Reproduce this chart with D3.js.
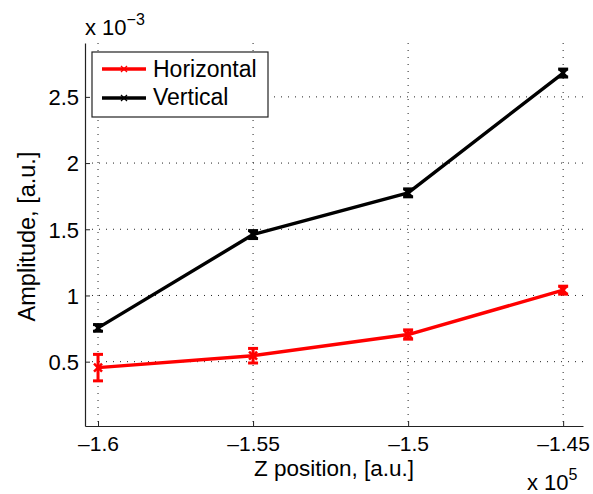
<!DOCTYPE html>
<html><head><meta charset="utf-8">
<script src="https://cdn.jsdelivr.net/npm/d3@7"></script>
<style>body{margin:0;background:#fff}svg{display:block}text{font-family:"Liberation Sans",Arial,sans-serif}</style>
</head><body><svg id="c" width="593" height="494"></svg>
<script>
const zPos = [-1.6, -1.55, -1.5, -1.45];
const horizontal = [0.455, 0.545, 0.705, 1.04];
const horizontalErr = [0.1, 0.055, 0.035, 0.03];
const vertical = [0.755, 1.46, 1.775, 2.68];
const verticalErr = [0.025, 0.03, 0.03, 0.03];
const xTicks = [-1.6, -1.55, -1.5, -1.45];
const xTickLabels = ["\u20131.6", "\u20131.55", "\u20131.5", "\u20131.45"];
const yTicks = [0.5, 1, 1.5, 2, 2.5];
const yTickLabels = ["0.5", "1", "1.5", "2", "2.5"];
const seriesNames = ["Horizontal", "Vertical"];

const svg = d3.select("#c");
const L = 85, R = 583, T = 43, B = 426;
const x = d3.scaleLinear().domain([-1.6042, -1.4436]).range([L, R]);
const y = d3.scaleLinear().domain([0.014, 2.907]).range([B, T]);

// grid
const g = svg.append("g");
g.selectAll(".gx").data(xTicks).join("line")
  .attr("x1", d => x(d)).attr("x2", d => x(d)).attr("y1", T).attr("y2", B)
  .attr("stroke", "#222").attr("stroke-width", 1).attr("stroke-dasharray", "1,6");
g.selectAll(".gy").data(yTicks).join("line")
  .attr("y1", d => y(d)).attr("y2", d => y(d)).attr("x1", L).attr("x2", R)
  .attr("stroke", "#222").attr("stroke-width", 1).attr("stroke-dasharray", "1,6");

// axes
const xAxis = d3.axisBottom(x).tickValues(xTicks).tickFormat((d, i) => xTickLabels[i]).tickSizeInner(-5).tickSizeOuter(0).tickPadding(10);
const yAxis = d3.axisLeft(y).tickValues(yTicks).tickFormat((d, i) => yTickLabels[i]).tickSizeInner(-5).tickSizeOuter(0).tickPadding(6);
const gx = svg.append("g").attr("transform", `translate(0,${B})`).call(xAxis);
const gy = svg.append("g").attr("transform", `translate(${L},0)`).call(yAxis);
[gx, gy].forEach(a => {
  a.select(".domain").attr("stroke", "#222").attr("stroke-width", 1.2);
  a.selectAll(".tick line").attr("stroke", "#222");
  a.selectAll("text").attr("font-size", 22).attr("fill", "#000").attr("font-family", "Liberation Sans, Arial, sans-serif");
});
gx.selectAll("text").attr("font-size", 21);
gy.selectAll(".tick text").attr("dy", "0.36em");
gx.selectAll(".tick text").attr("dy", "0.71em");

// exponents
const e1 = svg.append("text").attr("x", 85).attr("y", 35).attr("font-size", 22);
e1.append("tspan").text("x 10");
e1.append("tspan").attr("dy", -10).attr("font-size", 16).text("\u22123");
const e2 = svg.append("text").attr("x", 527).attr("y", 490).attr("font-size", 22);
e2.append("tspan").text("x 10");
e2.append("tspan").attr("dy", -10).attr("font-size", 16).text("5");

// titles
svg.append("text").attr("x", 334).attr("y", 476).attr("text-anchor", "middle").attr("font-size", 22.5).text("Z position, [a.u.]");
svg.append("text").attr("transform", `translate(35,${(T + B) / 2 + 2}) rotate(-90)`).attr("text-anchor", "middle").attr("font-size", 23.5).text("Amplitude, [a.u.]");

// series
const series = [
  {vals: horizontal, err: horizontalErr, color: "#ff0000"},
  {vals: vertical, err: verticalErr, color: "#000000"}
];
const line = d3.line().x((d, i) => x(zPos[i])).y(d => y(d));
series.forEach(s => {
  const sg = svg.append("g");
  sg.append("path").attr("d", line(s.vals)).attr("fill", "none").attr("stroke", s.color).attr("stroke-width", 3.4).attr("stroke-linejoin", "round");
  s.vals.forEach((v, i) => {
    const cx = x(zPos[i]), y1 = y(v + s.err[i]), y2 = y(v - s.err[i]);
    sg.append("line").attr("x1", cx).attr("x2", cx).attr("y1", y1).attr("y2", y2).attr("stroke", s.color).attr("stroke-width", 3);
    [y1, y2].forEach(yy => sg.append("line").attr("x1", cx - 5).attr("x2", cx + 5).attr("y1", yy).attr("y2", yy).attr("stroke", s.color).attr("stroke-width", 3));
    const cy = y(v);
    sg.append("path").attr("d", `M${cx-4},${cy-4}L${cx+4},${cy+4}M${cx-4},${cy+4}L${cx+4},${cy-4}`).attr("stroke", s.color).attr("stroke-width", 2.5);
  });
});

// legend
const lg = svg.append("g");
lg.append("rect").attr("x", 92).attr("y", 52).attr("width", 176).attr("height", 65).attr("fill", "#fff").attr("stroke", "#222").attr("stroke-width", 1.2);
seriesNames.forEach((n, i) => {
  const yy = 69 + i * 29;
  lg.append("line").attr("x1", 102).attr("x2", 146).attr("y1", yy).attr("y2", yy).attr("stroke", series[i].color).attr("stroke-width", 3.4);
  lg.append("path").attr("d", `M121,${yy-3}L127,${yy+3}M121,${yy+3}L127,${yy-3}`).attr("stroke", series[i].color).attr("stroke-width", 1.3);
  lg.append("text").attr("x", 153).attr("y", 77 + i * 28).attr("font-size", 23).text(n);
});
</script></body></html>
